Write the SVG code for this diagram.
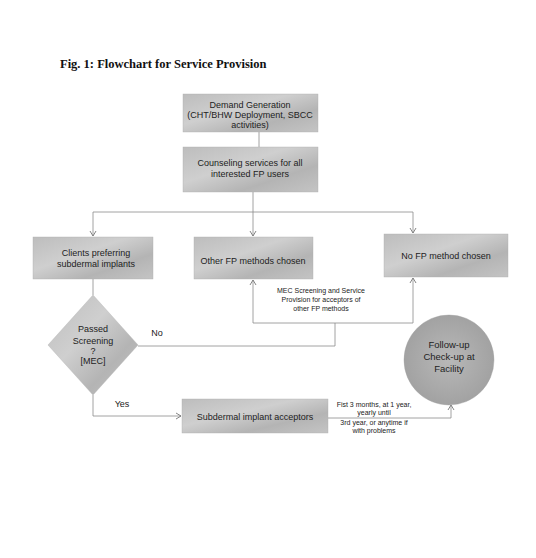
<svg xmlns="http://www.w3.org/2000/svg" width="536" height="558" viewBox="0 0 536 558">
<style>
.t{font-family:"Liberation Sans","DejaVu Sans",sans-serif;font-size:9px;fill:#222;text-anchor:middle}
.c{font-family:"Liberation Sans","DejaVu Sans",sans-serif;font-size:9.5px;fill:#222;text-anchor:middle}
.s{font-family:"Liberation Sans","DejaVu Sans",sans-serif;font-size:7px;fill:#222;text-anchor:middle}
.box{fill:url(#g);stroke:#b0b0b0;stroke-width:0.4}
.ln{fill:none;stroke:#8a8a8a;stroke-width:0.8}
.title{font-family:"Liberation Serif","Times New Roman",serif;font-weight:bold;font-size:12.5px;fill:#111}
</style>
<defs>
<linearGradient id="g" x1="0" y1="0" x2="1" y2="1">
<stop offset="0" stop-color="#bdbdbd"/>
<stop offset="0.4" stop-color="#cfcfcf"/>
<stop offset="0.7" stop-color="#b4b4b4"/>
<stop offset="1" stop-color="#c4c4c4"/>
</linearGradient>
<radialGradient id="gc" cx="0.5" cy="0.5" r="0.5">
<stop offset="0" stop-color="#b8b8b8"/>
<stop offset="1" stop-color="#a2a2a2"/>
</radialGradient>
<marker id="a" markerWidth="8" markerHeight="8" refX="6" refY="4" orient="auto" markerUnits="userSpaceOnUse">
<path d="M1,1 L6,4 L1,7" fill="none" stroke="#777" stroke-width="0.9"/>
</marker>
</defs>
<text class="title" x="60" y="68">Fig. 1: Flowchart for Service Provision</text>
<g id="connectors">
<path class="ln" d="M259,132 V147"/>
<path class="ln" d="M253,192 V212"/>
<path class="ln" d="M93,212 H413"/>
<path class="ln" d="M93,212 V236" marker-end="url(#a)"/>
<path class="ln" d="M253,212 V236" marker-end="url(#a)"/>
<path class="ln" d="M413,212 V233" marker-end="url(#a)"/>
<path class="ln" d="M93,279 V295"/>
<path class="ln" d="M138,346 H335 V323"/>
<path class="ln" d="M253,323 H413"/>
<path class="ln" d="M253,323 V280" marker-end="url(#a)"/>
<path class="ln" d="M413,323 V278" marker-end="url(#a)"/>
<path class="ln" d="M93,395 V416 H181" marker-end="url(#a)"/>
<path class="ln" d="M328,418 H451 V405" marker-end="url(#a)"/>
<text class="t" x="157" y="336">No</text>
<text class="t" x="122" y="407">Yes</text>
<text class="s" x="321" y="293">MEC Screening and Service</text>
<text class="s" x="321" y="302">Provision for acceptors of</text>
<text class="s" x="321" y="311">other FP methods</text>
<text class="s" x="374" y="407">Fist 3 months, at 1 year,</text>
<text class="s" x="374" y="415">yearly until</text>
<text class="s" x="374" y="425">3rd year, or anytime if</text>
<text class="s" x="374" y="433">with problems</text>
</g>
<g id="demand">
<rect class="box" x="183" y="94" width="135" height="38"/>
<text class="t" x="250" y="108">Demand Generation</text>
<text class="t" x="250" y="118">(CHT/BHW Deployment, SBCC</text>
<text class="t" x="250" y="128">activities)</text>
</g>
<g id="counseling">
<rect class="box" x="183" y="147" width="135" height="45"/>
<text class="t" x="250" y="166">Counseling services for all</text>
<text class="t" x="250" y="177">interested FP users</text>
</g>
<g id="clients">
<rect class="box" x="33" y="237" width="120" height="42"/>
<text class="t" x="96" y="256">Clients preferring</text>
<text class="t" x="96" y="267">subdermal implants</text>
</g>
<g id="other">
<rect class="box" x="194" y="237" width="119" height="42"/>
<text class="t" x="253" y="264">Other FP methods chosen</text>
</g>
<g id="nofp">
<rect class="box" x="384" y="234" width="124" height="43"/>
<text class="t" x="446" y="259">No FP method chosen</text>
</g>
<g id="screening">
<path class="box" d="M93,295 L138,345 L93,395 L48,345 Z"/>
<text class="t" x="93" y="332">Passed</text>
<text class="t" x="93" y="344">Screening</text>
<text class="t" x="93" y="354">?</text>
<text class="t" x="93" y="364">[MEC]</text>
</g>
<g id="acceptors">
<rect class="box" x="182" y="399" width="146" height="34"/>
<text class="t" x="255" y="420">Subdermal implant acceptors</text>
</g>
<g id="followup">
<circle cx="449" cy="360" r="45" fill="url(#gc)" stroke="#a0a0a0" stroke-width="0.4"/>
<text class="c" x="449" y="348">Follow-up</text>
<text class="c" x="449" y="360">Check-up at</text>
<text class="c" x="449" y="372">Facility</text>
</g>
</svg>
